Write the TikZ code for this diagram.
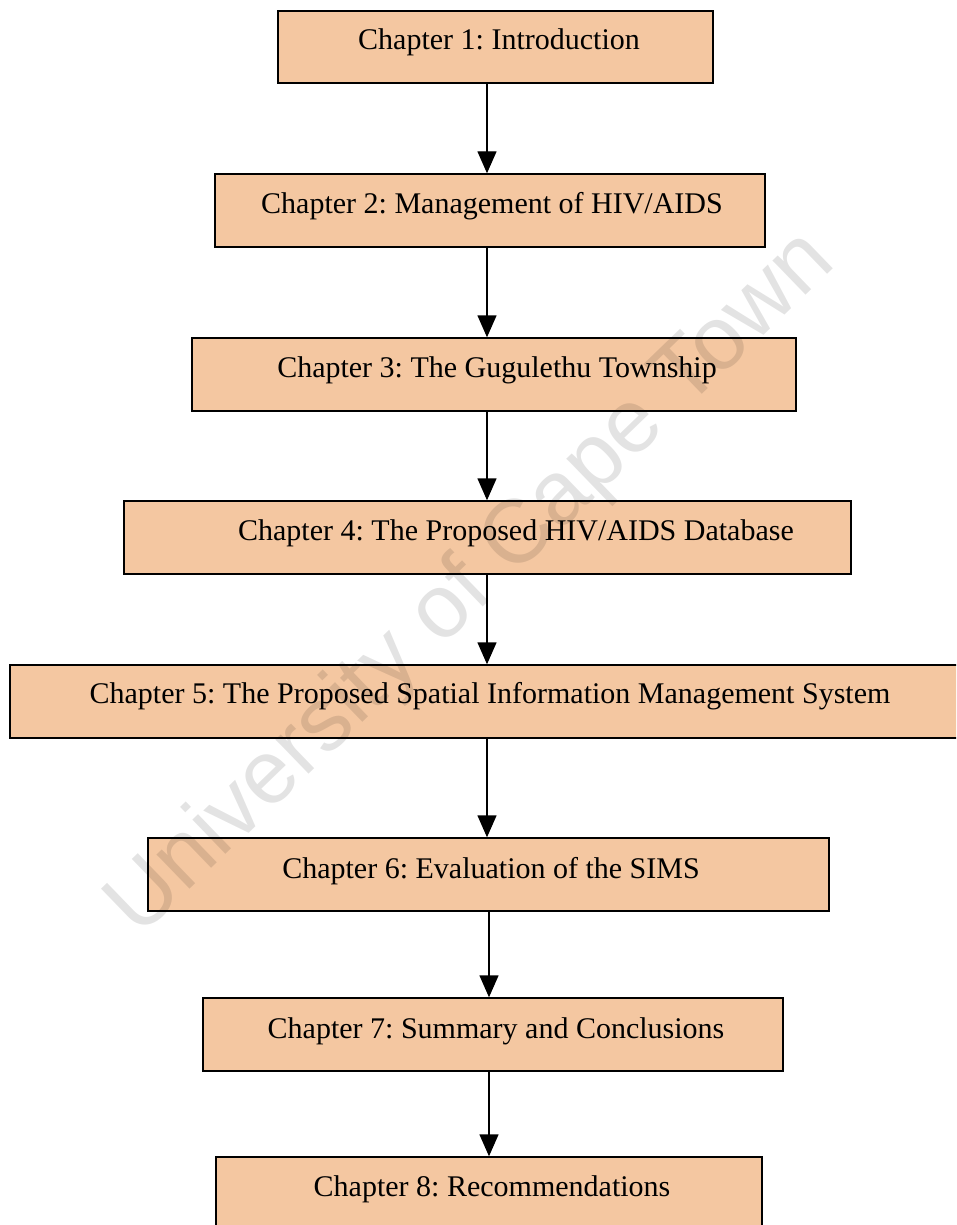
\documentclass[tikz,border=0pt]{standalone}
\usepackage{fontspec}
\setmainfont{Liberation Serif}
\newfontfamily\wmfont{Liberation Sans}
\usetikzlibrary{arrows.meta}
\definecolor{peach}{RGB}{244,199,161}
\frenchspacing
\tikzset{
  x=1pt, y=-1pt,
  chapbox/.style={draw=black, line width=1.4pt, fill=peach, inner sep=0pt},
  chaptitle/.style={font=\fontsize{30}{34}\selectfont, inner sep=0pt, anchor=base},
  flow/.style={line width=1.4pt, -{Triangle[width=19pt,length=22pt]}},
  watermark/.style={font=\wmfont\fontsize{90}{100}\selectfont, text=black, text opacity=0.11, rotate=44}
}
\newcommand{\chapterbox}[5]{%
  % name, left, top, right, bottom
  \node[chapbox, minimum width={#4-#2}, minimum height={#5-#3}] (#1) at ({(#2+#4)/2},{(#3+#5)/2}) {};
}
\begin{document}
\begin{tikzpicture}
\useasboundingbox (0,0) rectangle (956,1225);
\clip (0,0) rectangle (956,1225);
\fill[white] (0,0) rectangle (956,1225);

% chapter boxes
\chapterbox{c1}{278}{11}{713}{83}
\chapterbox{c2}{215}{174}{765}{247}
\chapterbox{c3}{192}{338}{796}{411}
\chapterbox{c4}{124}{501}{851}{574}
\chapterbox{c5}{10}{665}{966}{738}
\chapterbox{c6}{148}{838}{829}{911}
\chapterbox{c7}{203}{998}{783}{1071}
\chapterbox{c8}{216}{1157}{762}{1232}

% titles (base line positions)
\node[chaptitle] (t1) at (499,50)   {Chapter 1: Introduction};
\node[chaptitle] (t2) at (492,213)  {Chapter 2: Management of HIV/AIDS};
\node[chaptitle] (t3) at (497,377)  {Chapter 3: The Gugulethu Township};
\node[chaptitle] (t4) at (516,540)  {Chapter 4: The Proposed HIV/AIDS Database};
\node[chaptitle] (t5) at (490,703)  {Chapter 5: The Proposed Spatial Information Management System};
\node[chaptitle] (t6) at (491,878)  {Chapter 6: Evaluation of the SIMS};
\node[chaptitle] (t7) at (496,1038) {Chapter 7: Summary and Conclusions};
\node[chaptitle] (t8) at (492,1196) {Chapter 8: Recommendations};

% arrow columns
\coordinate (ax) at (487,0);
\coordinate (bx) at (489,0);

\draw[flow] (c1.south -| ax) -- (c2.north -| ax);
\draw[flow] (c2.south -| ax) -- (c3.north -| ax);
\draw[flow] (c3.south -| ax) -- (c4.north -| ax);
\draw[flow] (c4.south -| ax) -- (c5.north -| ax);
\draw[flow] (c5.south -| ax) -- (c6.north -| ax);
\draw[flow] (c6.south -| bx) -- (c7.north -| bx);
\draw[flow] (c7.south -| bx) -- (c8.north -| bx);

% watermark
\node[watermark] (wm) at (472,585) {University of Cape Town};
\end{tikzpicture}
\end{document}
